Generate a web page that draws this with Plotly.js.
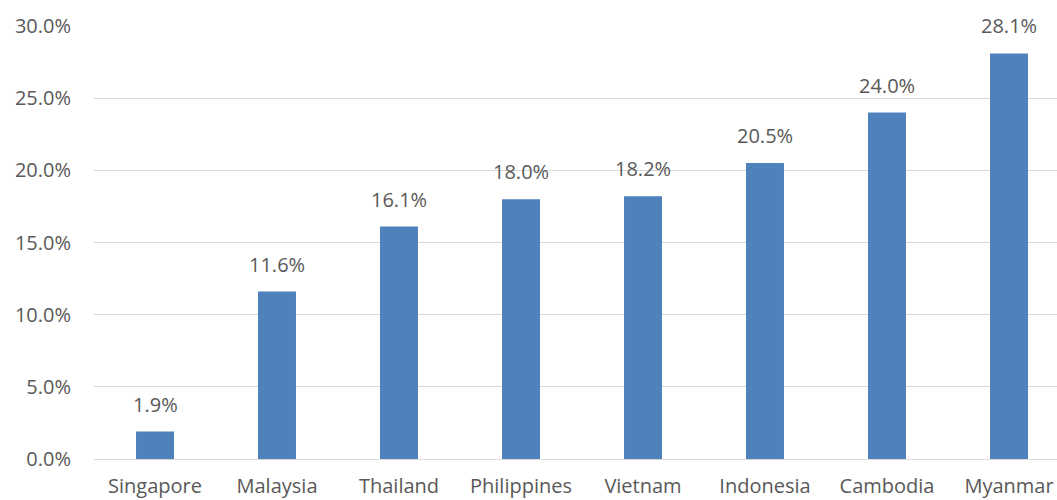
<!DOCTYPE html>
<html>
<head>
<meta charset="utf-8">
<script src="https://cdn.plot.ly/plotly-3.0.1.min.js"></script>
<style>html,body{margin:0;padding:0;overflow:hidden;background:#fff;}#chart{width:1070px;height:500px;}</style>
</head>
<body>
<div id="chart"></div>
<script>
const countries = ["Singapore","Malaysia","Thailand","Philippines","Vietnam","Indonesia","Cambodia","Myanmar"];
const shares = [1.9, 11.6, 16.1, 18.0, 18.2, 20.5, 24.0, 28.1];
const yTicks = [0, 5, 10, 15, 20, 25, 30];
const yTickLabels = ["0.0%","5.0%","10.0%","15.0%","20.0%","25.0%","30.0%"];

const textColor = "#595959";
const fontFam = "'Open Sans', 'Liberation Sans', Arial, sans-serif";

const trace = {
  type: "bar",
  x: countries,
  y: shares,
  marker: {color: "#4F81BD"},
  hoverinfo: "none"
};

const annotations = countries.map((c, i) => ({
  x: c, y: shares[i], xref: "x", yref: "y",
  text: shares[i].toFixed(1) + "%",
  showarrow: false, yanchor: "bottom", yshift: 12,
  font: {family: fontFam, size: 20, color: textColor}
}));

const layout = {
  width: 1070, height: 500,
  margin: {l: 94, r: 0, t: 26, b: 41},
  paper_bgcolor: "#fff", plot_bgcolor: "#fff",
  bargap: 0.689,
  showlegend: false,
  font: {family: fontFam, size: 20, color: textColor},
  xaxis: {
    type: "category",
    showgrid: false, zeroline: false, showline: false,
    ticks: "", ticklabelstandoff: 13,
    tickfont: {family: fontFam, size: 20, color: textColor}
  },
  yaxis: {
    range: [0, 30],
    tickvals: yTicks, ticktext: yTickLabels,
    showgrid: true, gridcolor: "#D9D9D9", gridwidth: 1,
    zeroline: true, zerolinecolor: "#D9D9D9", zerolinewidth: 1,
    showline: false, ticks: "", ticklabelstandoff: 22,
    tickfont: {family: fontFam, size: 20, color: textColor}
  },
  annotations: annotations
};

Plotly.newPlot("chart", [trace], layout, {displayModeBar: false, staticPlot: true});
</script>
</body>
</html>
